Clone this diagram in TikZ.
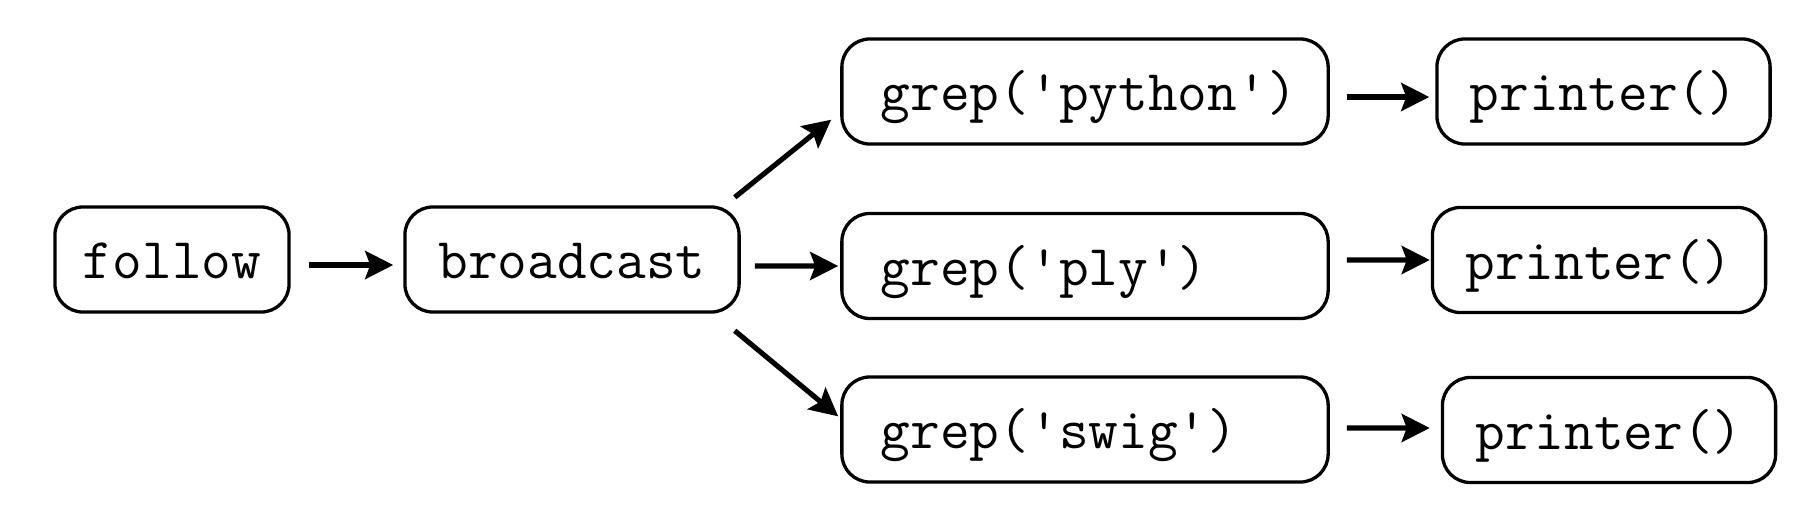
\documentclass[tikz,border=0pt]{standalone}
\usetikzlibrary{arrows.meta}
\newcommand\codefont{\ttfamily\fontsize{16.4}{19}\selectfont}
\newcommand\sq{\textquotesingle}
\tikzset{
  box/.style={draw, line width=0.94pt, rounded corners=0.28cm, minimum height=1.05cm, inner sep=0pt, text height=0.46cm, text depth=0.08cm, font=\codefont},
  grepbox/.style={box, text width=4.08cm, align=left, inner xsep=0.39cm},
  printbox/.style={box, minimum width=3.33cm},
  arr/.style={line width=1.45pt, -{Stealth[length=0.28cm,width=0.28cm,inset=0.05cm]}},
}
\begin{document}
\begin{tikzpicture}[x=0.01cm,y=-0.01cm]
\useasboundingbox (0,0) rectangle (1794,518);
\node[box, minimum width=2.34cm] (follow) at (172,259.5) {follow};
\node[box, minimum width=3.34cm] (broadcast) at (572,259.5) {broadcast};
\node[grepbox] (python) at (1085,91.5) {grep(\sq python\sq)};
\node[grepbox] (ply) at (1085,266) {grep(\sq ply\sq)};
\node[grepbox] (swig) at (1085,429.5) {grep(\sq swig\sq)};
\node[printbox] (p1) at (1603.5,91.5) {printer()};
\node[printbox] (p2) at (1599,260) {printer()};
\node[printbox] (p3) at (1609,430) {printer()};
\draw[arr] ([xshift=0.18cm,yshift=-0.055cm]follow.east) -- ([xshift=-0.10cm,yshift=-0.055cm]broadcast.west);
\draw[arr] ([xshift=0.14cm,yshift=-0.065cm]broadcast.east) -- ([xshift=-0.02cm]ply.west);
\draw[arr] ([xshift=-0.06cm,yshift=0.08cm]broadcast.north east) -- ([xshift=-0.09cm,yshift=0.26cm]python.south west);
\draw[arr] ([xshift=-0.06cm,yshift=-0.17cm]broadcast.south east) -- ([xshift=-0.02cm,yshift=-0.41cm]swig.north west);
\draw[arr] ([xshift=0.17cm,yshift=-0.055cm]python.east) -- ([xshift=-0.06cm,yshift=-0.055cm]p1.west);
\draw[arr] ([xshift=0.17cm,yshift=0.06cm]ply.east) -- ([xshift=-0.01cm]p2.west);
\draw[arr] ([xshift=0.17cm,yshift=0.015cm]swig.east) -- ([xshift=-0.11cm,yshift=0.02cm]p3.west);
\end{tikzpicture}
\end{document}
